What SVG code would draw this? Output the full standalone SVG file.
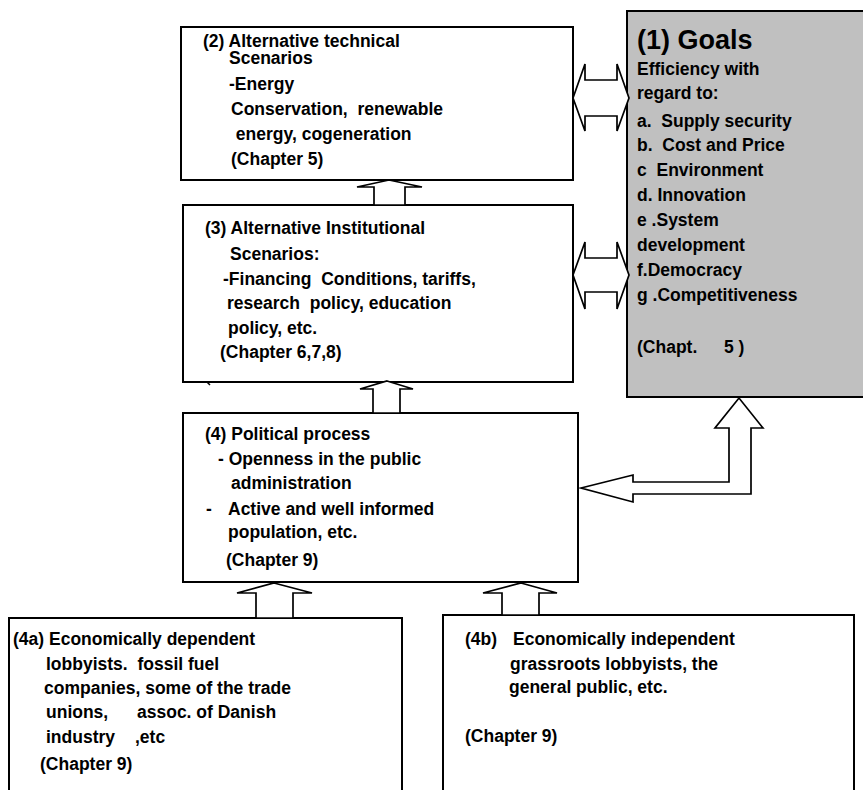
<svg xmlns="http://www.w3.org/2000/svg" width="863" height="790" viewBox="0 0 863 790" xml:space="preserve">
  <style>
    .box { fill: #ffffff; stroke: #000000; stroke-width: 2; }
    .goal { fill: #c0c0c0; stroke: #000000; stroke-width: 2; }
    .arrow { fill: #ffffff; stroke: #000000; stroke-width: 1.7; stroke-linejoin: miter; }
    text { font-family: "Liberation Sans", Arial, sans-serif; font-weight: bold; font-size: 17.5px; fill: #000000; white-space: pre; }
    .title { font-size: 27px; }
  </style>
  <rect width="863" height="790" fill="#ffffff"/>

  <!-- (1) Goals -->
  <g id="goals">
    <rect class="goal" x="627" y="11" width="250" height="386"/>
    <text class="title" x="637" y="49">(1) Goals</text>
    <text x="637" y="75">Efficiency with</text>
    <text x="637" y="99">regard to:</text>
    <text x="637" y="127">a.  Supply security</text>
    <text x="637" y="151">b.  Cost and Price</text>
    <text x="637" y="176">c  Environment</text>
    <text x="637" y="201">d. Innovation</text>
    <text x="637" y="226">e .System</text>
    <text x="637" y="251">development</text>
    <text x="637" y="276">f.Democracy</text>
    <text x="637" y="301">g .Competitiveness</text>
    <text x="637" y="353">(Chapt.</text>
    <text x="724" y="353">5 )</text>
  </g>

  <!-- (2) Alternative technical scenarios -->
  <g id="technical">
    <rect class="box" x="181" y="27" width="392" height="153"/>
    <text x="203" y="47">(2) Alternative technical</text>
    <text x="229" y="64">Scenarios</text>
    <text x="229" y="90">-Energy</text>
    <text x="231" y="115">Conservation,  renewable</text>
    <text x="231" y="140"> energy, cogeneration</text>
    <text x="231" y="165">(Chapter 5)</text>
  </g>

  <!-- (3) Alternative institutional scenarios -->
  <g id="institutional">
    <rect class="box" x="183" y="205" width="390" height="177"/>
    <line x1="207" y1="382" x2="210" y2="385" stroke="#000" stroke-width="1.5"/>
    <text x="205" y="234">(3) Alternative Institutional</text>
    <text x="230" y="260">Scenarios:</text>
    <text x="223" y="285">-Financing  Conditions, tariffs,</text>
    <text x="227" y="309">research  policy, education</text>
    <text x="228" y="334">policy, etc.</text>
    <text x="220" y="358">(Chapter 6,7,8)</text>
  </g>

  <!-- (4) Political process -->
  <g id="political">
    <rect class="box" x="183" y="413" width="395" height="169"/>
    <text x="205" y="440">(4) Political process</text>
    <text x="218" y="465">- Openness in the public</text>
    <text x="231" y="489">administration</text>
    <text x="206" y="515">-</text>
    <text x="228" y="515">Active and well informed</text>
    <text x="228" y="538">population, etc.</text>
    <text x="226" y="566">(Chapter 9)</text>
  </g>

  <!-- (4a) Economically dependent lobbyists -->
  <g id="dependent">
    <rect class="box" x="9" y="618" width="393" height="190"/>
    <text x="13" y="645">(4a) Economically dependent</text>
    <text x="46" y="670">lobbyists.  fossil fuel</text>
    <text x="44" y="694">companies, some of the trade</text>
    <text x="46" y="718">unions,</text>
    <text x="137" y="718">assoc. of Danish</text>
    <text x="46" y="743">industry</text>
    <text x="135" y="743">,etc</text>
    <text x="40" y="770">(Chapter 9)</text>
  </g>

  <!-- (4b) Economically independent lobbyists -->
  <g id="independent">
    <rect class="box" x="443" y="615" width="411" height="190"/>
    <text x="465" y="645">(4b)</text>
    <text x="513" y="645">Economically independent</text>
    <text x="510" y="670">grassroots lobbyists, the</text>
    <text x="509" y="693">general public, etc.</text>
    <text x="465" y="742">(Chapter 9)</text>
  </g>

  <!-- block arrows -->
  <g id="connectors">
    <!-- technical <-> goals -->
    <polygon class="arrow" points="573,98 585,64 585,80 617,80 617,64 629,98 617,131 617,116 585,116 585,131"/>
    <!-- institutional <-> goals -->
    <polygon class="arrow" points="573,275 585,242 585,258 617,258 617,242 629,275 617,309 617,292 585,292 585,309"/>
    <!-- institutional -> technical -->
    <polygon class="arrow" points="389,180 422,187 405,187 405,205 374,205 374,187 357,187"/>
    <!-- political -> institutional -->
    <polygon class="arrow" points="387,381 413,389 400,389 400,413 373,413 373,389 360,389"/>
    <!-- dependent -> political -->
    <polygon class="arrow" points="274,583 312,593 293,593 293,618 256,618 256,593 237,593"/>
    <!-- independent -> political -->
    <polygon class="arrow" points="521,583 557,593 539,593 539,615 502,615 502,593 483,593"/>
    <!-- political <-> goals (elbow) -->
    <polygon class="arrow" points="581,488 633,475 633,482 729,482 729,428 715,428 739,398 763,428 751,428 751,494 633,494 633,502"/>
  </g>
</svg>
